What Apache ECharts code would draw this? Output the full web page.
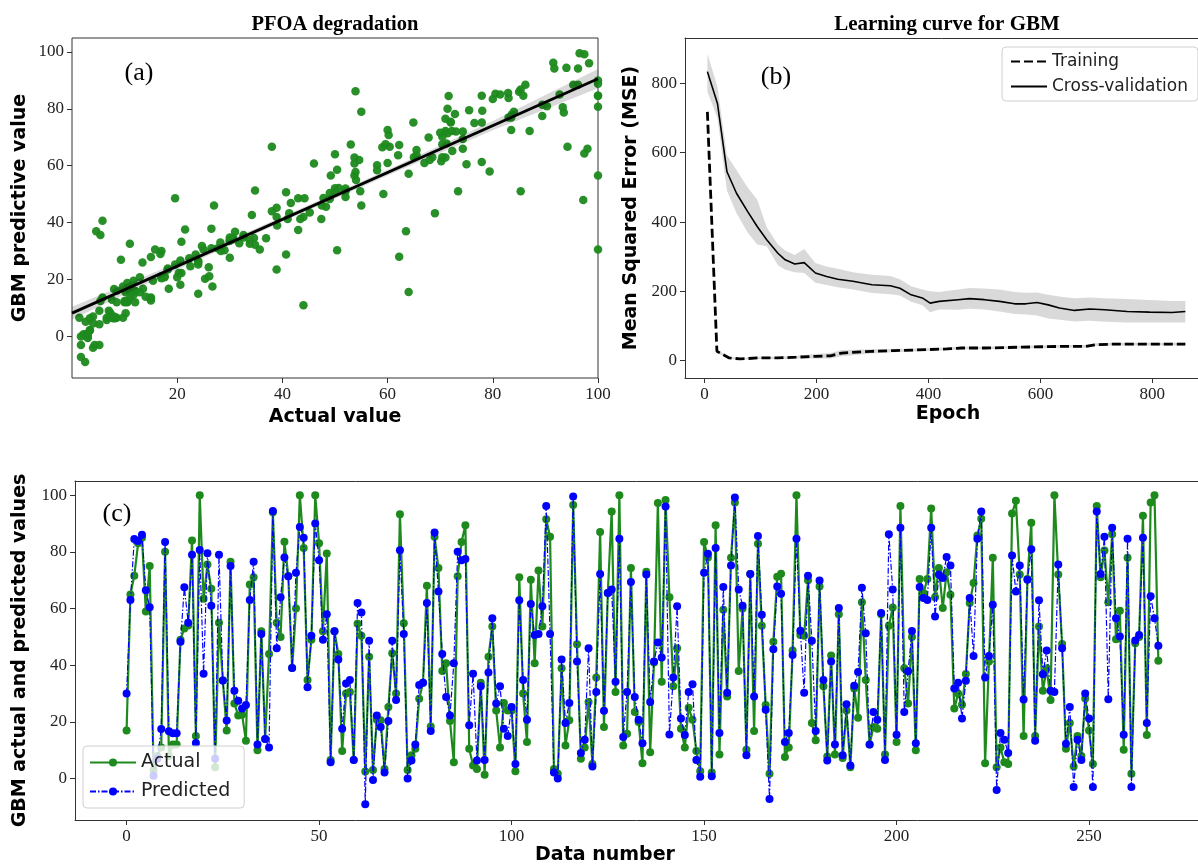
<!DOCTYPE html>
<html><head><meta charset="utf-8">
<script src="https://cdn.jsdelivr.net/npm/echarts@6/dist/echarts.min.js"></script>
<style>html,body{margin:0;padding:0;background:#fff}#c{width:1198px;height:865px}</style>
</head><body><div id="c"></div>
<script>
// ---- Panel (c) / (a) data: actual and GBM-predicted values per data number ----
const actual = [17,65,71.6,83,85,59,75,3,8,11,80,
8,12,12,49,53,54,84,15,100,63.5,
75.5,67,4,55,34.6,17,76.5,26.5,22.3,22.5,
13.4,68.5,71,10,52,14,44,94,55,50,
83.6,71.4,39,60,100,81.4,34.8,49,100,83,
52,79.4,6.6,52,44,9.7,30,30.6,6.6,54.6,
50.4,2.5,43,3,20.8,20.6,3.4,25.3,44.2,30,
93.3,54.8,3,8.2,10.5,28.2,33.8,68,18.4,85.3,
74.3,38,40.7,20.3,5.8,71.4,83.5,89.4,10.5,4.6,
3.4,33.8,1.4,43,53.7,24,11,26.7,24,24,
2.6,71,30,12.9,70.2,40.7,73.4,53.7,91.5,85.3,
3.4,1.7,38.9,11.7,20.6,96.5,47.4,7,11,27,
5.2,35.7,87,18.2,65.5,94.2,30.6,100,11.7,15.8,
74.3,23.5,20,5.4,73,9.3,41,97.2,34.2,98.3,
64,32.6,46,17.6,11,25,20.8,9.7,2.6,83.5,
78,2.2,89.4,8.5,59.6,29,77.9,97.4,38,60,
10.2,72.2,16.8,82.9,53.9,26,1.7,48.3,71.2,72.3,
7.6,11,45.2,100,50.7,50.4,70,19.6,13.5,67.8,
32.6,7.8,43.4,8.5,58,7.3,24,4,31.8,21.5,
62.2,34.8,12,18.2,17.6,58,8.5,53.9,60.4,12.9,
96.2,38.9,26.5,50,10,70.4,65.5,70.4,95.3,64,
74.3,60.2,72.8,64.9,24.7,30,26.1,36.9,62,69,
85.8,91.7,5.4,41.3,77.9,4,11,5.8,5.2,93.5,
98,72,15,70.4,90.3,15,53.7,31,38.9,27.7,
100,72,47.5,10.5,19.6,4.3,15,8,28.3,17,
5.2,96.2,71,80.5,62.2,86.2,49.2,59.2,10.2,77.9,
1.7,47.8,50,92.7,15.4,97.4,100,41.6];
const predicted = [30,63,84.5,83.8,86,66.5,60.5,1,7,17.5,83.5,
16.7,16,16,48.3,67.5,55,79,12.6,80.7,37,
79.5,61,7,79,34.6,20.5,75,31,27.5,24.7,
26,63,76.5,12,51,14,11,94.4,46,64,
78,71.4,39,72.6,88.8,85,32.2,50.4,90,77,
49,58,5.8,52,42,17.6,33.6,34.8,6.6,62,
58.6,-9,48.6,-0.5,22.3,18.2,2.2,20.3,48.6,27.7,
80.6,51,0,6.4,12,33,33.8,62,16.8,86.8,
66,44,28.8,22.3,40.7,80,77,77.5,18.8,37,
6.4,32.6,6.6,37.4,56.6,26.5,32.6,17.6,15,25.3,
5.2,62.9,34.8,20.8,61.6,50.7,51,60.8,96.2,51,
2.2,0,42,19.6,26.7,99.5,41.3,9,13.7,46,
4.3,30.6,72.2,23.9,65.5,66.7,34.2,84.6,14.7,30.6,
69.4,28.8,20.8,12.5,72,27,41.3,48,42.7,96,
15.6,35.7,60.8,21.2,15.4,30.6,33.3,6.6,0.7,72.6,
79.3,0.8,81.4,16.1,67.6,30.3,75.2,99.2,66.7,61,
8.2,72.2,29,85.6,57.8,24.3,-7.2,45.6,67.8,65.2,
12.9,16.1,43.6,84.6,52.2,30.3,71.6,48.6,16.8,69.9,
34.8,6.4,41.3,12,60.2,8.2,26.2,4.6,32.8,37.6,
67.3,51.3,12,23.5,20.8,58.4,6.6,86.2,66.7,15.5,
88.5,23.5,37.9,52.1,12.5,67.6,63.7,63,88.5,57.2,
72,70.8,78.2,75.2,31.8,33.8,21.2,34.5,63.7,43.3,
84.6,94.2,35.7,43.3,61.3,-4,16.1,13.7,9,78.7,
66,75.2,27.9,70.2,80.9,13.4,62.9,36.8,45.2,31,
30.6,75.5,46,12.3,25.3,-3,13.7,6.6,30,21.2,
-3,94.2,72.2,85.3,28,88.5,56.6,50.1,15.5,84.6,
-3,48.7,50.7,85,19.6,64.3,56.6,46.9];

// ---- Panel (a): fitted regression line and its confidence band ----
const fitX = [0, 100];
const fitY = [8.2, 90.6];
const bandX = [0, 20, 40, 60, 80, 100];
const bandLow = [6.0, 23.5, 40.3, 56.6, 72.5, 87.2];
const bandHigh = [10.4, 25.9, 42.1, 58.6, 75.7, 94.0];

// ---- Panel (b): learning curve ----
const cvEpoch = [5,23,40,57,77,94,111,131,144,161,178,198,218,238,265,299,332,349,369,389,403,419,453,473,500,527,554,574,594,614,634,661,688,715,755,795,835,859];
const cvMean = [834,742,545,483,430,387,349,310,291,279,283,253,243,235,229,219,216,209,190,181,166,171,176,179,176,171,164,164,168,161,152,145,149,147,142,140,139,142];
const cvLow  = [776,700,490,425,370,335,330,275,262,255,253,225,218,212,205,195,192,188,170,160,140,148,147,150,148,142,135,133,130,122,118,113,115,112,110,110,110,110];
const cvHigh = [886,790,592,550,500,465,385,335,318,305,322,282,272,265,255,248,244,235,215,205,200,198,205,210,208,205,198,196,197,190,185,180,182,180,178,175,172,172];
const trEpoch = [5,22,44,64,97,131,164,198,225,245,299,339,399,433,460,500,567,634,681,698,735,802,859];
const trMean = [718,27,8,5,8,8,10,12.5,14,22,27,29,32,34,36.5,36.5,39,41,41,46,48,48,48];
const trLow  = [705,22,5,3,5,5,6,6,6,13,21,24,28,30,33,33,35,37,37,42,44,44,44];
const trHigh = [731,32,11,7,11,11,14,19,22,31,33,34,36,38,40,40,43,45,45,50,52,52,52];

// ---- tick labels ----
const ticksA_X = [20,40,60,80,100];
const ticksA_Y = [0,20,40,60,80,100];
const ticksB_X = [0,200,400,600,800];
const ticksB_Y = [0,200,400,600,800];
const ticksC_X = [0,50,100,150,200,250];
const ticksC_Y = [0,20,40,60,80,100];

const serif = 'Liberation Serif';
const sans = 'DejaVu Sans';
const GREEN = '#1e8a1e';
const BLUE = '#0000ff';
const BAND = 'rgba(0,0,0,0.15)';
const EDGE = '#333';
const NAME_FONT = {fontFamily: sans, fontWeight: 'bold', fontSize: 19, fill: '#000'};

function axisCommon(ticks, gridIndex, min, max, name, gap, showLine) {
  return {
    type: 'value', gridIndex, min, max, name,
    nameLocation: 'middle', nameGap: gap,
    nameTextStyle: {fontFamily: sans, fontWeight: 'bold', fontSize: 19, color: '#000'},
    axisLine: {show: !!showLine, onZero: false, lineStyle: {color: EDGE, width: 1}},
    axisTick: {show: true, inside: false, length: 5, customValues: ticks, lineStyle: {color: EDGE}},
    axisLabel: {customValues: ticks, fontFamily: serif, fontSize: 17, color: '#222', margin: 8},
    splitLine: {show: false}
  };
}
function topLine(gridIndex, min, max) {
  return {type: 'value', gridIndex, min, max, position: 'top',
    axisLine: {show: true, onZero: false, lineStyle: {color: EDGE, width: 1}},
    axisTick: {show: false}, axisLabel: {show: false}, splitLine: {show: false}};
}
// a filled band between low and high, drawn through the axis scales
function bandSeries(xs, lo, hi, xi, yi, z) {
  return {
    type: 'custom', xAxisIndex: xi, yAxisIndex: yi, z, silent: true,
    data: [[xs[0], lo[0]]],
    renderItem(params, api) {
      const pts = [];
      for (let i = 0; i < xs.length; i++) pts.push(api.coord([xs[i], hi[i]]));
      for (let i = xs.length - 1; i >= 0; i--) pts.push(api.coord([xs[i], lo[i]]));
      return {type: 'polygon', shape: {points: pts}, style: {fill: BAND}};
    }
  };
}

const idx = actual.map((_, i) => i);
const scatterData = actual.map((v, i) => [v, predicted[i]]);

const C_MIN = -13.4, C_MAX = 278.3;

const option = {
  animation: false,
  backgroundColor: '#fff',
  grid: [
    {left: 72, top: 38, width: 526, height: 340, show: true, borderColor: EDGE, borderWidth: 1, backgroundColor: 'transparent'},
    {left: 685, top: 38, right: 0, height: 340},
    {left: 75, top: 481, right: 0, height: 339}
  ],
  xAxis: [
    axisCommon(ticksA_X, 0, 0, 100, 'Actual value', 30, false),
    axisCommon(ticksB_X, 1, -35, 881.6, '', 30, true),
    axisCommon(ticksC_X, 2, C_MIN, C_MAX, '', 30, true),
    topLine(1, -35, 881.6),
    topLine(2, C_MIN, C_MAX)
  ],
  yAxis: [
    axisCommon(ticksA_Y, 0, -14.6, 104.9, 'GBM predictive value', 42, false),
    axisCommon(ticksB_Y, 1, -50, 931, 'Mean Squared Error (MSE)', 44, true),
    axisCommon(ticksC_Y, 2, -14.6, 105, 'GBM actual and predicted values', 45, true)
  ],
  legend: [
    {data: ['Training', 'Cross-validation'], left: 1002, top: 47, orient: 'vertical',
     itemWidth: 36, itemHeight: 12, itemGap: 8, itemStyle: {opacity: 0},
     textStyle: {fontFamily: sans, fontSize: 17, color: '#222'},
     backgroundColor: 'rgba(255,255,255,0.85)', borderColor: '#d0d0d0', borderWidth: 1, borderRadius: 4,
     padding: [6, 10, 6, 8]},
    {data: ['Actual', 'Predicted'], left: 83, top: 746, orient: 'vertical',
     itemWidth: 46, itemHeight: 10, itemGap: 10,
     textStyle: {fontFamily: sans, fontSize: 19, color: '#222'},
     backgroundColor: 'rgba(255,255,255,0.8)', borderColor: '#d0d0d0', borderWidth: 1, borderRadius: 4,
     padding: [7, 14, 7, 6]}
  ],
  graphic: [
    {type: 'text', x: 335, y: 25, style: {text: 'PFOA degradation', align: 'center', verticalAlign: 'middle', fontFamily: serif, fontWeight: 'bold', fontSize: 20.5, fill: '#000'}},
    {type: 'text', x: 947, y: 25, style: {text: 'Learning curve for GBM', align: 'center', verticalAlign: 'middle', fontFamily: serif, fontWeight: 'bold', fontSize: 21, fill: '#000'}},
    {type: 'text', x: 139, y: 73, style: {text: '(a)', align: 'center', verticalAlign: 'middle', fontFamily: serif, fontSize: 26, fill: '#000'}},
    {type: 'text', x: 776, y: 77, style: {text: '(b)', align: 'center', verticalAlign: 'middle', fontFamily: serif, fontSize: 26, fill: '#000'}},
    {type: 'text', x: 117, y: 514, style: {text: '(c)', align: 'center', verticalAlign: 'middle', fontFamily: serif, fontSize: 26, fill: '#000'}},
    {type: 'text', x: 948, y: 414, style: Object.assign({text: 'Epoch', align: 'center', verticalAlign: 'middle'}, NAME_FONT)},
    {type: 'text', x: 605, y: 855, style: Object.assign({text: 'Data number', align: 'center', verticalAlign: 'middle'}, NAME_FONT)}
  ],
  series: [
    // panel (a)
    {type: 'scatter', xAxisIndex: 0, yAxisIndex: 0, data: scatterData, symbolSize: 8.5,
     itemStyle: {color: GREEN, opacity: 0.95}, z: 2},
    bandSeries(bandX, bandLow, bandHigh, 0, 0, 3),
    {type: 'line', xAxisIndex: 0, yAxisIndex: 0, data: fitX.map((x, i) => [x, fitY[i]]),
     symbol: 'none', lineStyle: {color: '#000', width: 2.8}, z: 4},
    // panel (b)
    bandSeries(cvEpoch, cvLow, cvHigh, 1, 1, 1),
    bandSeries(trEpoch, trLow, trHigh, 1, 1, 1),
    {name: 'Training', type: 'line', xAxisIndex: 1, yAxisIndex: 1, data: trEpoch.map((x, i) => [x, trMean[i]]),
     symbol: 'none', itemStyle: {color: '#000'}, lineStyle: {color: '#000', width: 2.8, type: [9, 4]}, z: 3},
    {name: 'Cross-validation', type: 'line', xAxisIndex: 1, yAxisIndex: 1, data: cvEpoch.map((x, i) => [x, cvMean[i]]),
     symbol: 'none', itemStyle: {color: '#000'}, lineStyle: {color: '#000', width: 1.6}, z: 3},
    // panel (c)
    {name: 'Actual', type: 'line', xAxisIndex: 2, yAxisIndex: 2, data: idx.map(i => [i, actual[i]]),
     symbol: 'circle', symbolSize: 8, showAllSymbol: true,
     itemStyle: {color: GREEN}, lineStyle: {color: GREEN, width: 2.2}, z: 2},
    {name: 'Predicted', type: 'line', xAxisIndex: 2, yAxisIndex: 2, data: idx.map(i => [i, predicted[i]]),
     symbol: 'circle', symbolSize: 8, showAllSymbol: true,
     itemStyle: {color: BLUE}, lineStyle: {color: BLUE, width: 1.2, type: [6, 2, 1.5, 2]}, z: 3}
  ]
};

const chart = echarts.init(document.getElementById('c'), null, {renderer: 'canvas'});
chart.setOption(option);
</script>
</body></html>
